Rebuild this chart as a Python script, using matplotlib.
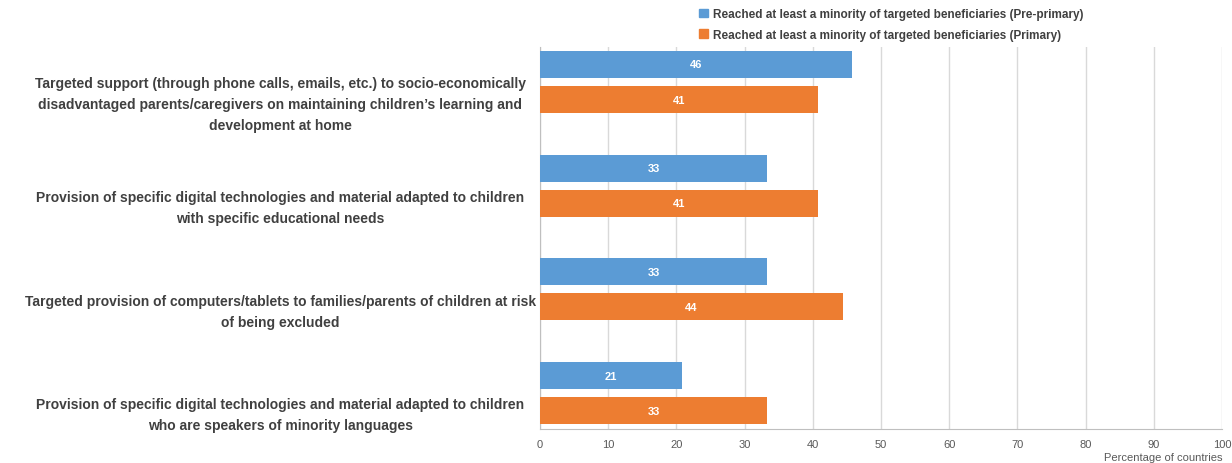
import matplotlib.pyplot as plt
import matplotlib.transforms as mtransforms
from matplotlib.patches import Patch
import numpy as np

categories = [
    'Targeted support (through phone calls, emails, etc.) to socio-economically\n'
    'disadvantaged parents/caregivers on maintaining children\u2019s learning and\n'
    'development at home',
    'Provision of specific digital technologies and material adapted to children\n'
    'with specific educational needs',
    'Targeted provision of computers/tablets to families/parents of children at risk\n'
    'of being excluded',
    'Provision of specific digital technologies and material adapted to children\n'
    'who are speakers of minority languages',
]
pre_primary = [45.8, 33.3, 33.3, 20.8]
primary = [40.8, 40.8, 44.4, 33.3]
series_names = ['Reached at least a minority of targeted beneficiaries (Pre-primary)',
                'Reached at least a minority of targeted beneficiaries (Primary)']

blue = '#5B9BD5'
orange = '#ED7D31'
txt = '#404040'

plt.rcParams['font.family'] = ['Liberation Sans', 'DejaVu Sans']

fig = plt.figure(figsize=(12.32, 4.64), dpi=100)
ax = fig.add_axes([540/1232, 34/464, 682/1232, 382/464])

y = np.arange(len(categories))
h = 0.26
off = 0.169
b1 = ax.barh(y - off, pre_primary, height=h, color=blue, zorder=3)
b2 = ax.barh(y + off, primary, height=h, color=orange, zorder=3)

# value labels inside the bars
for bars, vals in [(b1, pre_primary), (b2, primary)]:
    for bar, v in zip(bars, vals):
        ax.text(v / 2, bar.get_y() + bar.get_height() / 2, f'{v:.0f}',
                ha='center', va='center', color='white', fontsize=8,
                fontweight='bold', zorder=4)

ax.set_xlim(0, 100)
ax.set_ylim(3.347, -0.3375)
ax.set_xticks(np.arange(0, 101, 10))
ax.set_yticks([])
ax.grid(axis='x', color='#d9d9d9', linewidth=1, zorder=0)
ax.tick_params(axis='x', length=0, labelsize=8, colors='#595959', pad=7)
for s in ['top', 'right']:
    ax.spines[s].set_visible(False)
for s in ['left', 'bottom']:
    ax.spines[s].set_color('#bfbfbf')

# category labels, centred to the left of the plot
trans = mtransforms.blended_transform_factory(ax.transAxes, ax.transData)
for i, lab in enumerate(categories):
    ax.text(-0.381, i + 0.21, lab, transform=trans, ha='center', va='center',
            fontsize=10, fontweight='bold', color=txt, linespacing=1.62)

ax.text(1.0, -0.072, 'Percentage of countries', transform=ax.transAxes,
        ha='right', va='center', fontsize=8, color='#595959')

handles = [Patch(color=blue), Patch(color=orange)]
fig.legend(handles, series_names, loc='upper left', bbox_to_anchor=(690/1232, 1.0),
           frameon=False, labelcolor=txt, handlelength=0.7,
           handleheight=0.7, handletextpad=0.45, labelspacing=0.7,
           borderaxespad=0.4, prop={'weight': 'bold', 'size': 8.5})

fig.savefig('out.png', dpi=100, facecolor='white')
